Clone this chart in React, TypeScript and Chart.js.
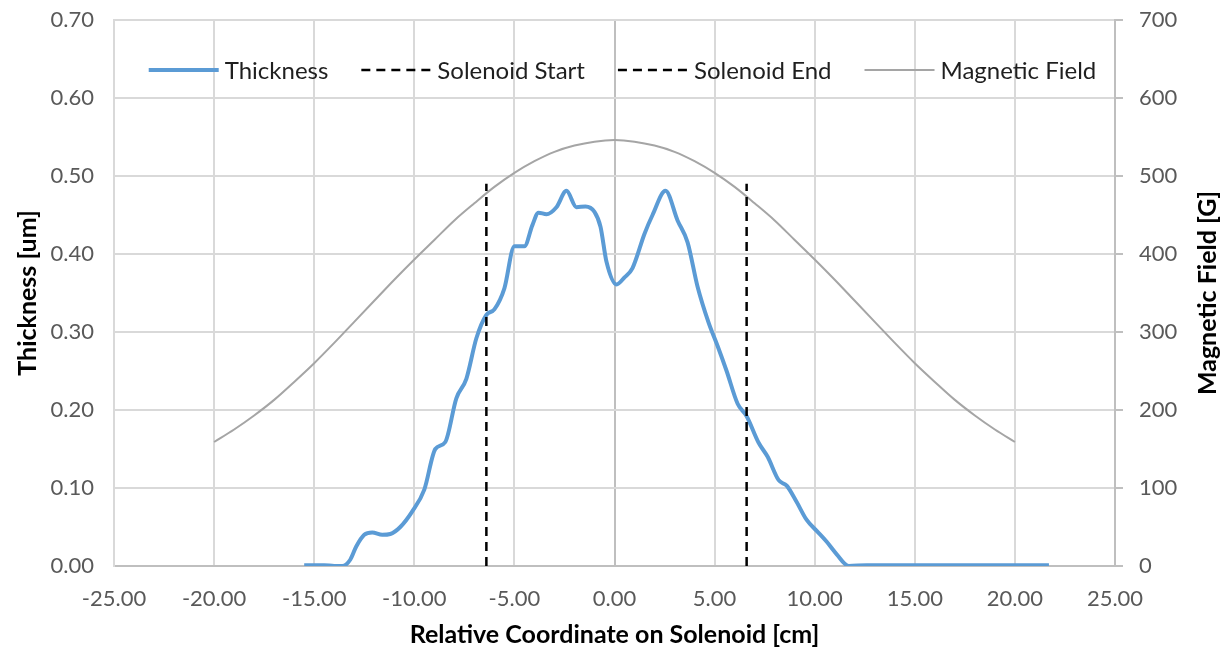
import React, { useEffect, useRef } from 'react';
import { Chart, registerables } from 'chart.js';

Chart.register(...registerables);

// ---- Data ----
const thicknessX = [-15.5, -14.5, -14.0, -13.6, -13.2, -12.9, -12.5, -12.1, -11.6, -11.2, -10.7, -10.1, -9.5, -8.95, -8.45, -7.9, -7.4, -6.9, -6.4, -6.0, -5.5, -5.0, -4.5, -4.1, -3.8, -3.4, -2.9, -2.4, -1.9, -1.45, -1.0, -0.7, -0.4, 0.1, 0.5, 0.9, 1.5, 1.9, 2.55, 3.15, 3.65, 4.15, 4.7, 5.15, 5.6, 6.15, 6.6, 7.2, 7.65, 8.2, 8.6, 9.1, 9.6, 10.1, 10.6, 11.1, 11.7, 12.6, 15.0, 18.0, 21.7];
const thicknessY = [0.001, 0.001, 0.0, 0.0, 0.008, 0.025, 0.040, 0.043, 0.040, 0.041, 0.050, 0.070, 0.098, 0.150, 0.159, 0.215, 0.240, 0.292, 0.322, 0.329, 0.356, 0.410, 0.410, 0.437, 0.453, 0.451, 0.460, 0.481, 0.460, 0.461, 0.454, 0.435, 0.390, 0.361, 0.370, 0.382, 0.426, 0.450, 0.481, 0.443, 0.415, 0.358, 0.312, 0.282, 0.250, 0.208, 0.192, 0.158, 0.140, 0.110, 0.103, 0.082, 0.059, 0.045, 0.031, 0.015, 0.0, 0.001, 0.001, 0.001, 0.001];

const fieldX = [-20, -19, -18, -17, -16, -15, -14, -13, -12, -11, -10, -9, -8, -7, -6, -5, -4, -3, -2, -1, 0, 1, 2, 3, 4, 5, 6, 7, 8, 9, 10, 11, 12, 13, 14, 15, 16, 17, 18, 19, 20];
const fieldY = [159, 175, 193, 213, 236, 260, 286, 313, 340, 367, 393, 418, 443, 465, 486, 504, 519, 531, 539, 544, 546, 544, 539, 531, 519, 504, 486, 465, 443, 418, 393, 367, 340, 313, 286, 260, 236, 213, 193, 175, 159];

const solenoidStartX = [-6.4, -6.4];
const solenoidEndX = [6.6, 6.6];
const solenoidY = [0, 0.49];

const seriesLabels = ['Thickness', 'Solenoid Start', 'Solenoid End', 'Magnetic Field'];
const xTitle = 'Relative Coordinate on Solenoid [cm]';
const yTitle = 'Thickness [um]';
const y2Title = 'Magnetic Field [G]';

const FONT = 'Lato, "Open Sans", sans-serif';

const zip = (xs: number[], ys: number[]) => xs.map((x, i) => ({ x, y: ys[i] }));

const inlineLegend = {
  id: 'inlineLegend',
  afterDraw(chart: any) {
    const { ctx, chartArea } = chart;
    const datasets = chart.data.datasets;
    ctx.save();
    ctx.font = `24px ${FONT}`;
    ctx.textBaseline = 'middle';
    const lineLen = 70;
    const gapLT = 6;
    const gapItems = 33;
    const widths = datasets.map((ds: any) => lineLen + gapLT + ctx.measureText(ds.label).width);
    const total = widths.reduce((a: number, b: number) => a + b, 0) + gapItems * (datasets.length - 1);
    let x = (chartArea.left + chartArea.right) / 2 + 8 - total / 2;
    const y = chartArea.top + 50;
    datasets.forEach((ds: any, i: number) => {
      ctx.save();
      ctx.strokeStyle = ds.borderColor;
      ctx.lineWidth = ds.borderWidth;
      ctx.setLineDash(ds.borderDash || []);
      ctx.lineCap = 'butt';
      ctx.beginPath();
      ctx.moveTo(x, y);
      ctx.lineTo(x + lineLen, y);
      ctx.stroke();
      ctx.restore();
      ctx.fillStyle = '#1f1f1f';
      ctx.fillText(ds.label, x + lineLen + gapLT, y + 1);
      x += widths[i] + gapItems;
    });

    // right axis title, reading bottom-to-top
    ctx.save();
    ctx.translate(1208, (chartArea.top + chartArea.bottom) / 2);
    ctx.rotate(-Math.PI / 2);
    ctx.font = `bold 25px ${FONT}`;
    ctx.fillStyle = '#000';
    ctx.textAlign = 'center';
    ctx.textBaseline = 'middle';
    ctx.fillText(y2Title, 0, 0);
    ctx.restore();
    ctx.restore();
  },
};

export default function App() {
  const canvasRef = useRef<HTMLCanvasElement | null>(null);

  useEffect(() => {
    document.body.style.margin = '0';
    const canvas = canvasRef.current;
    if (!canvas) return;
    const tickFont = { family: FONT, size: 22 };
    const titleFont = { family: FONT, size: 25, weight: 'bold' as const };
    const zeroVPad = (s: any, w: number) => {
      s.width = w;
      s.paddingTop = 0;
      s.paddingBottom = 0;
    };
    const chart = new Chart(canvas, {
      type: 'line',
      data: {
        datasets: [
          {
            label: seriesLabels[0],
            data: zip(thicknessX, thicknessY),
            borderColor: '#5b9bd5',
            borderWidth: 4,
            pointRadius: 0,
            cubicInterpolationMode: 'monotone',
            yAxisID: 'y',
            order: 2,
          },
          {
            label: seriesLabels[1],
            data: zip(solenoidStartX, solenoidY),
            borderColor: '#000000',
            borderWidth: 2.5,
            borderDash: [9, 6],
            pointRadius: 0,
            yAxisID: 'y',
            order: 1,
          },
          {
            label: seriesLabels[2],
            data: zip(solenoidEndX, solenoidY),
            borderColor: '#000000',
            borderWidth: 2.5,
            borderDash: [9, 6],
            pointRadius: 0,
            yAxisID: 'y',
            order: 1,
          },
          {
            label: seriesLabels[3],
            data: zip(fieldX, fieldY),
            borderColor: '#a5a5a5',
            borderWidth: 2,
            pointRadius: 0,
            cubicInterpolationMode: 'monotone',
            yAxisID: 'y2',
            order: 3,
          },
        ] as any,
      },
      plugins: [inlineLegend],
      options: {
        animation: false,
        responsive: false,
        devicePixelRatio: 1,
        layout: { padding: { top: 20, left: 0, right: 0, bottom: 0 } },
        plugins: { legend: { display: false }, tooltip: { enabled: false } },
        scales: {
          x: {
            type: 'linear',
            min: -25,
            max: 25,
            ticks: {
              stepSize: 5,
              font: tickFont,
              color: '#595959',
              padding: 20,
              maxRotation: 0,
              callback: (v: any) => Number(v).toFixed(2),
            },
            grid: {
              color: (c: any) => (c.tick && c.tick.value === 0 ? '#bfbfbf' : '#d9d9d9'),
              lineWidth: 2,
              drawTicks: false,
            },
            border: { display: true, color: '#bfbfbf', width: 2 },
            title: { display: true, text: xTitle, font: titleFont, color: '#000', padding: { top: 0, bottom: 0 } },
            afterFit: (s: any) => {
              s.height = 84;
              s.paddingLeft = 0;
              s.paddingRight = 0;
            },
          },
          y: {
            type: 'linear',
            position: 'left',
            min: 0,
            max: 0.7,
            ticks: {
              stepSize: 0.1,
              font: tickFont,
              color: '#595959',
              padding: 20,
              callback: (v: any) => Number(v).toFixed(2),
            },
            grid: {
              color: (c: any) => (c.tick && c.tick.value === 0 ? '#bfbfbf' : '#d9d9d9'),
              lineWidth: 2,
              drawTicks: false,
            },
            border: { display: true, color: '#d9d9d9', width: 2 },
            title: { display: true, text: yTitle, font: titleFont, color: '#000', padding: { top: 13, bottom: 0 } },
            afterFit: (s: any) => zeroVPad(s, 114),
          },
          y2: {
            type: 'linear',
            position: 'right',
            min: 0,
            max: 700,
            ticks: {
              stepSize: 100,
              font: tickFont,
              color: '#595959',
              padding: 16,
            },
            grid: {
              drawOnChartArea: false,
              drawTicks: true,
              tickLength: 8,
              color: '#bfbfbf',
              lineWidth: 2,
            },
            border: { display: true, color: '#bfbfbf', width: 2 },
            title: { display: false },
            afterFit: (s: any) => zeroVPad(s, 106),
          },
        },
      } as any,
    });
    return () => chart.destroy();
  }, []);

  return (
    <div style={{ width: 1221, height: 650, background: '#fff' }}>
      <canvas ref={canvasRef} width={1221} height={650} style={{ display: 'block' }} />
    </div>
  );
}
